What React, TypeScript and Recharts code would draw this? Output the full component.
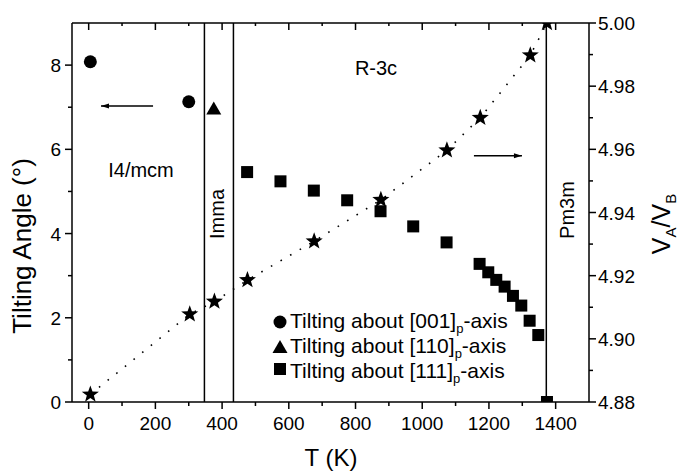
import React from 'react'
import { ScatterChart, Scatter, XAxis, YAxis, ReferenceLine } from 'recharts'

// tilting angles (left axis, degrees)
const tilt001T = [5, 300]
const tilt001 = [8.08, 7.13]
const tilt110T = [375]
const tilt110 = [6.97]
const tilt111T = [475, 575, 675, 775, 875, 973, 1073, 1172, 1198, 1222, 1247, 1272, 1297, 1322, 1348, 1374]
const tilt111 = [5.46, 5.24, 5.02, 4.79, 4.53, 4.17, 3.79, 3.28, 3.08, 2.9, 2.74, 2.52, 2.29, 1.93, 1.59, 0]

// V_A/V_B ratio (right axis)
const ratioT = [5, 303, 377, 476, 676, 876, 1074, 1174, 1324, 1374]
const ratio = [4.8824, 4.9078, 4.9118, 4.9186, 4.9309, 4.944, 4.9597, 4.97, 4.9898, 5.0]

// phase boundaries
const boundaries = [347, 434, 1372]

const xTicks = [0, 100, 200, 300, 400, 500, 600, 700, 800, 900, 1000, 1100, 1200, 1300, 1400]
const leftTicks = [0, 1, 2, 3, 4, 5, 6, 7, 8]
const rightTicks = [4.88, 4.89, 4.9, 4.91, 4.92, 4.93, 4.94, 4.95, 4.96, 4.97, 4.98, 4.99, 5.0]

const zip = (ts: number[], vs: number[]) => ts.map((t, i) => ({ t, v: vs[i] }))

const FONT = "'Liberation Sans', Arial, sans-serif"
const INK = '#000'

function BottomTick({ x, y, payload }: any) {
  const major = payload.value % 200 === 0
  return (
    <g>
      <line x1={x} x2={x} y1={y} y2={y + (major ? 7 : 4)} stroke={INK} strokeWidth={1.5} />
      {major && (
        <text x={x} y={y + 28} textAnchor="middle" fontSize={19} fontFamily={FONT} fill={INK}>
          {payload.value}
        </text>
      )}
    </g>
  )
}

function TopTick({ x, y, payload }: any) {
  const major = payload.value % 200 === 0
  return <line x1={x} x2={x} y1={y} y2={y + (major ? 7 : 3)} stroke={INK} strokeWidth={1.5} />
}

function LeftTick({ x, y, payload }: any) {
  const major = payload.value % 2 === 0
  return (
    <g>
      <line x1={x} x2={x - (major ? 7 : 4)} y1={y} y2={y} stroke={INK} strokeWidth={1.5} />
      {major && (
        <text x={x - 11} y={y + 7} textAnchor="end" fontSize={19} fontFamily={FONT} fill={INK}>
          {payload.value}
        </text>
      )}
    </g>
  )
}

function RightTick({ x, y, payload }: any) {
  const major = Math.round(payload.value * 100) % 2 === 0
  return (
    <g>
      <line x1={x} x2={x + (major ? 7 : 4)} y1={y} y2={y} stroke={INK} strokeWidth={1.5} />
      {major && (
        <text x={x + 9} y={y + 7} textAnchor="start" fontSize={19} fontFamily={FONT} fill={INK}>
          {payload.value.toFixed(2)}
        </text>
      )}
    </g>
  )
}

const Dot = ({ cx, cy }: any) => <circle cx={cx} cy={cy} r={6.5} fill={INK} />
const Tri = ({ cx, cy }: any) => (
  <path d={`M${cx},${cy - 7}L${cx + 7.5},${cy + 6}L${cx - 7.5},${cy + 6}Z`} fill={INK} />
)
const Sq = ({ cx, cy }: any) => <rect x={cx - 6} y={cy - 6} width={12} height={12} fill={INK} />
const Star = ({ cx, cy }: any) => {
  let d = ''
  for (let i = 0; i < 10; i++) {
    const r = i % 2 === 0 ? 9 : 3.7
    const a = -Math.PI / 2 + (i * Math.PI) / 5
    d += `${i === 0 ? 'M' : 'L'}${cx + r * Math.cos(a)},${cy + r * Math.sin(a)}`
  }
  return <path d={d + 'Z'} fill={INK} />
}

function Arrow(props: any) {
  const { x1, y1, x2, y2 } = props
  const dir = x2 > x1 ? 1 : -1
  return (
    <g>
      <line x1={x1} y1={y1} x2={x2} y2={y2} stroke={INK} strokeWidth={1.5} />
      <path d={`M${x2},${y2}L${x2 - dir * 8},${y2 - 2.5}L${x2 - dir * 8},${y2 + 2.5}Z`} fill={INK} />
    </g>
  )
}

const axisLine = { stroke: INK, strokeWidth: 1.5 }

export default function App() {
  return (
    <div style={{ position: 'absolute', left: 0, top: 0, width: 682, height: 474, background: '#fff' }}>
      <ScatterChart width={682} height={474} margin={{ top: 0, right: 0, bottom: 0, left: 0 }}>
        <XAxis
          xAxisId="b"
          type="number"
          dataKey="t"
          domain={[-50, 1500]}
          allowDataOverflow
          ticks={xTicks}
          interval={0}
          height={72}
          tickSize={0}
          tickMargin={0}
          tickLine={false}
          axisLine={axisLine}
          tick={(p: any) => <BottomTick {...p} />}
        />
        <XAxis
          xAxisId="top"
          orientation="top"
          type="number"
          dataKey="t"
          domain={[-50, 1500]}
          allowDataOverflow
          ticks={xTicks}
          interval={0}
          height={23}
          tickSize={0}
          tickMargin={0}
          tickLine={false}
          axisLine={axisLine}
          tick={(p: any) => <TopTick {...p} />}
        />
        <YAxis
          yAxisId="l"
          type="number"
          dataKey="v"
          domain={[0, 9]}
          allowDataOverflow
          ticks={leftTicks}
          interval={0}
          width={72}
          tickSize={0}
          tickMargin={0}
          tickLine={false}
          axisLine={axisLine}
          tick={(p: any) => <LeftTick {...p} />}
        />
        <YAxis
          yAxisId="r"
          orientation="right"
          type="number"
          dataKey="v"
          domain={[4.88, 5.0]}
          allowDataOverflow
          ticks={rightTicks}
          interval={0}
          width={93}
          tickSize={0}
          tickMargin={0}
          tickLine={false}
          axisLine={axisLine}
          tick={(p: any) => <RightTick {...p} />}
        />
        {boundaries.map((b) => (
          <ReferenceLine key={b} xAxisId="b" yAxisId="l" x={b} stroke={INK} strokeWidth={1.5} />
        ))}
        <ReferenceLine
          xAxisId="b"
          yAxisId="l"
          segment={[{ x: 193, y: 7.03 }, { x: 37, y: 7.03 }]}
          shape={(p: any) => <Arrow {...p} />}
        />
        <ReferenceLine
          xAxisId="b"
          yAxisId="r"
          segment={[{ x: 1155, y: 4.958 }, { x: 1299, y: 4.958 }]}
          shape={(p: any) => <Arrow {...p} />}
        />
        <Scatter
          xAxisId="b"
          yAxisId="r"
          data={zip(ratioT, ratio)}
          dataKey="v"
          shape={(p: any) => <Star {...p} />}
          line={{ stroke: INK, strokeWidth: 1.6, strokeDasharray: '1.6 9.5' }}
          isAnimationActive={false}
        />
        <Scatter xAxisId="b" yAxisId="l" data={zip(tilt001T, tilt001)} dataKey="v" shape={(p: any) => <Dot {...p} />} isAnimationActive={false} />
        <Scatter xAxisId="b" yAxisId="l" data={zip(tilt110T, tilt110)} dataKey="v" shape={(p: any) => <Tri {...p} />} isAnimationActive={false} />
        <Scatter xAxisId="b" yAxisId="l" data={zip(tilt111T, tilt111)} dataKey="v" shape={(p: any) => <Sq {...p} />} isAnimationActive={false} />
      </ScatterChart>

      {/* text annotations, legend and axis titles */}
      <svg
        width={682}
        height={474}
        style={{ position: 'absolute', left: 0, top: 0, pointerEvents: 'none' }}
        fontFamily={FONT}
        fill={INK}
      >
        <text x={141} y={177} fontSize={20} textAnchor="middle">I4/mcm</text>
        <text x={376} y={75} fontSize={20} textAnchor="middle">R-3c</text>
        <text transform="translate(224,214) rotate(-90)" fontSize={20} textAnchor="middle">Imma</text>
        <text transform="translate(574,210) rotate(-90)" fontSize={20} textAnchor="middle">Pm3m</text>

        <text transform="translate(31,246) rotate(-90)" fontSize={26} textAnchor="middle">Tilting Angle (°)</text>
        <text x={331} y={466} fontSize={24} textAnchor="middle">T (K)</text>
        <text transform="translate(670,224) rotate(-90)" fontSize={25} textAnchor="middle">
          V<tspan fontSize={15} dy={6}>A</tspan>
          <tspan dy={-6}>/V</tspan>
          <tspan fontSize={15} dy={6}>B</tspan>
        </text>

        <circle cx={280} cy={322} r={6.5} />
        <path d="M280,340L287.5,353L272.5,353Z" />
        <rect x={274} y={363} width={12} height={12} />
        {['001', '110', '111'].map((k, i) => (
          <text key={k} x={290} y={328 + i * 25} fontSize={21}>
            Tilting about [{k}]<tspan fontSize={13} dy={5}>p</tspan>
            <tspan dy={-5}>-axis</tspan>
          </text>
        ))}
      </svg>
    </div>
  )
}
